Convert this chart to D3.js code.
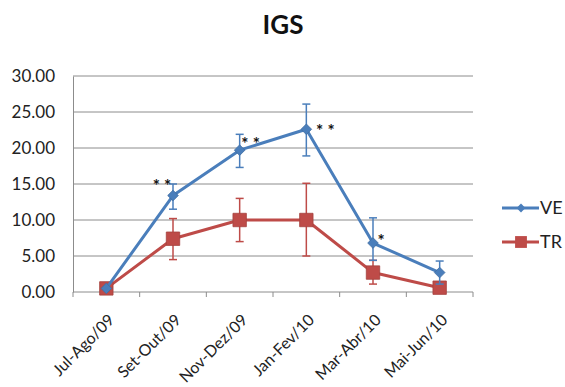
<!DOCTYPE html>
<html>
<head>
<meta charset="utf-8">
<script src="https://cdn.jsdelivr.net/npm/d3@7"></script>
<style>
  html, body { margin: 0; padding: 0; background: #fff; }
  svg { display: block; font-family: Lato, "Open Sans", sans-serif; }
</style>
</head>
<body>
<svg id="chart" width="565" height="387"></svg>
<script>
// Bimonthly periods
const periods = ["Jul-Ago/09", "Set-Out/09", "Nov-Dez/09", "Jan-Fev/10", "Mar-Abr/10", "Mai-Jun/10"];

// Mean IGS per period
const veMean = [0.5, 13.4, 19.7, 22.6, 6.8, 2.7];
const trMean = [0.5, 7.4, 10.0, 10.0, 2.7, 0.6];

// Error bar extents (lower, upper)
const veLow  = [0.5, 11.5, 17.3, 18.9, 4.4, 1.1];
const veHigh = [0.5, 15.0, 21.9, 26.1, 10.3, 4.3];
const trLow  = [0.5, 4.5, 7.0, 5.0, 1.1, 0.6];
const trHigh = [0.5, 10.2, 13.0, 15.1, 4.4, 0.6];

// Significance marks on the VE series
const signif = ["", "* *", "* *", "* *", "*", ""];

const yTicks = [0, 5, 10, 15, 20, 25, 30];
const seriesNames = ["VE", "TR"];
const colors = { VE: "#4a7ebb", TR: "#be4b48" };

const svg = d3.select("#chart");
const plotLeft = 73, plotRight = 473, plotTop = 76, plotBottom = 292;

const x = d3.scaleBand().domain(periods).range([plotLeft, plotRight]);
const y = d3.scaleLinear().domain([0, 30]).range([plotBottom, plotTop]);
const cx = d => x(d) + x.bandwidth() / 2;

// Title
svg.append("text")
  .attr("x", 283).attr("y", 34)
  .attr("text-anchor", "middle")
  .attr("font-size", 26).attr("font-weight", "bold")
  .attr("fill", "#111")
  .text("IGS");

// Horizontal gridlines
svg.append("g").selectAll("line")
  .data(yTicks.filter(t => t > 0))
  .join("line")
  .attr("x1", plotLeft).attr("x2", plotRight)
  .attr("y1", d => y(d)).attr("y2", d => y(d))
  .attr("stroke", "#8c8c8c").attr("stroke-width", 1);

// Y axis
const yAxis = svg.append("g")
  .attr("transform", `translate(${plotLeft},0)`)
  .call(d3.axisLeft(y).tickValues(yTicks).tickFormat(d3.format(".2f")).tickSize(0).tickPadding(18));
yAxis.select(".domain").attr("stroke", "#8c8c8c");
yAxis.selectAll("text").attr("font-size", 17).attr("fill", "#222").attr("font-family", "Lato, sans-serif");

// X axis with tick marks between categories
const xAxisG = svg.append("g").attr("transform", `translate(0,${plotBottom})`);
xAxisG.append("line").attr("x1", plotLeft).attr("x2", plotRight)
  .attr("stroke", "#8c8c8c");
const boundaries = periods.map(p => x(p)).concat([x(periods[periods.length - 1]) + x.bandwidth()]);
xAxisG.selectAll("line.tk").data(boundaries).join("line")
  .attr("class", "tk")
  .attr("x1", d => d).attr("x2", d => d)
  .attr("y1", 0).attr("y2", 5)
  .attr("stroke", "#8c8c8c");
xAxisG.selectAll("text").data(periods).join("text")
  .attr("transform", d => `translate(${cx(d) + 9},${29}) rotate(-45)`)
  .attr("text-anchor", "end")
  .attr("font-size", 16).attr("fill", "#222")
  .text(d => d);

function drawSeries(name, mean, low, high, marker) {
  const col = colors[name];
  const g = svg.append("g");
  // error bars
  const eb = g.selectAll("g.eb").data(periods.map((p, i) => ({ p, lo: low[i], hi: high[i] })))
    .join("g").attr("class", "eb");
  eb.append("line")
    .attr("x1", d => cx(d.p)).attr("x2", d => cx(d.p))
    .attr("y1", d => y(d.lo)).attr("y2", d => y(d.hi))
    .attr("stroke", col).attr("stroke-width", 1.5);
  ["lo", "hi"].forEach(k => {
    eb.append("line")
      .attr("x1", d => cx(d.p) - 4).attr("x2", d => cx(d.p) + 4)
      .attr("y1", d => y(d[k])).attr("y2", d => y(d[k]))
      .attr("stroke", col).attr("stroke-width", 1.5);
  });
  // line
  const line = d3.line().x((d, i) => cx(periods[i])).y(d => y(d));
  g.append("path").datum(mean)
    .attr("d", line).attr("fill", "none")
    .attr("stroke", col).attr("stroke-width", 3).attr("stroke-linejoin", "round");
  // markers
  g.selectAll("path.mk").data(mean).join("path")
    .attr("class", "mk")
    .attr("transform", (d, i) => `translate(${cx(periods[i])},${y(d)})`)
    .attr("d", marker)
    .attr("fill", col).attr("stroke", d3.color(col).darker(0.4)).attr("stroke-width", 0.8);
}

const diamond = d3.symbol().type(d3.symbolDiamond2).size(72)();
const square = d3.symbol().type(d3.symbolSquare).size(180)();

drawSeries("TR", trMean, trLow, trHigh, square);
drawSeries("VE", veMean, veLow, veHigh, diamond);

// Significance labels
const sigOffset = [[0, 0], [-11, -13], [11, -10], [19, -2], [8, -5], [0, 0]];
svg.append("g").selectAll("text").data(signif).join("text")
  .attr("x", (d, i) => cx(periods[i]) + sigOffset[i][0])
  .attr("y", (d, i) => y(veMean[i]) + sigOffset[i][1])
  .attr("text-anchor", "middle")
  .attr("font-size", 17).attr("font-weight", "bold").attr("fill", "#111")
  .attr("dy", "0.55em")
  .text(d => d);

// Legend
const legend = svg.append("g");
const legendSymbols = { VE: d3.symbol().type(d3.symbolDiamond2).size(50)(), TR: d3.symbol().type(d3.symbolSquare).size(140)() };
seriesNames.forEach((name, i) => {
  const ly = 208 + i * 34;
  const lg = legend.append("g");
  lg.append("line").attr("x1", 502).attr("x2", 539).attr("y1", ly).attr("y2", ly)
    .attr("stroke", colors[name]).attr("stroke-width", 3);
  lg.append("path")
    .attr("transform", `translate(521,${ly})`)
    .attr("d", legendSymbols[name])
    .attr("fill", colors[name]);
  lg.append("text").attr("x", 540).attr("y", ly).attr("dy", "0.36em")
    .attr("font-size", 18).attr("fill", "#222").text(name);
});
</script>
</body>
</html>
